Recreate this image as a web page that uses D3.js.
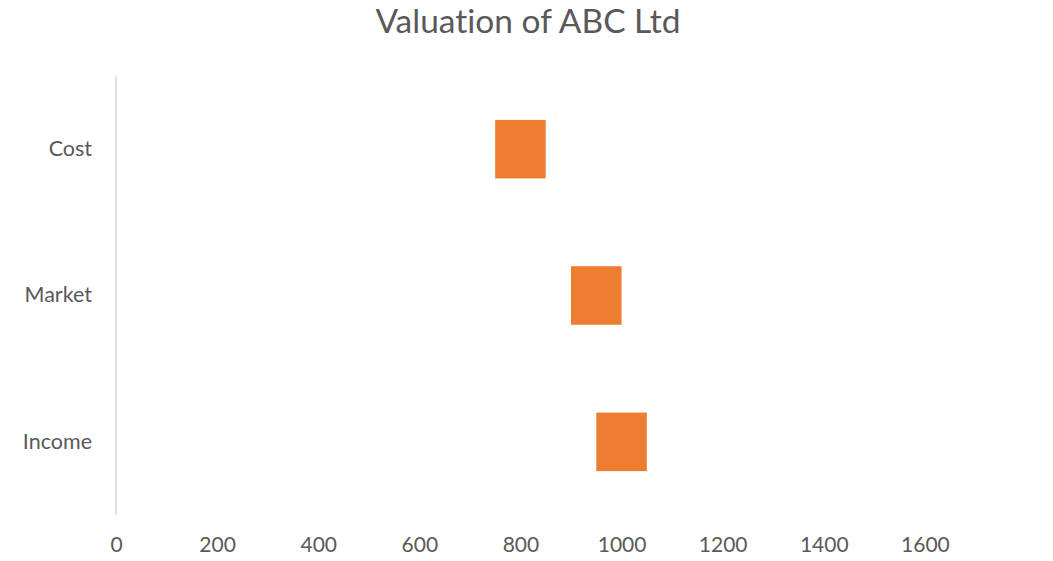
<!DOCTYPE html>
<html>
<head>
<meta charset="utf-8">
<script src="https://cdn.jsdelivr.net/npm/d3@7"></script>
<style>
html,body{margin:0;padding:0;background:#fff;}
svg{display:block;font-family:Lato,"Open Sans",sans-serif;font-variant-ligatures:none;}
text{font-variant-ligatures:none;font-feature-settings:"liga" 0;}
</style>
</head>
<body>
<svg id="chart" width="1053" height="561"></svg>
<script>
const title = "Valuation of ABC Ltd";
const categories = ["Cost", "Market", "Income"];
const lowValues = [750, 900, 950];
const highValues = [850, 1000, 1050];
const xTicks = [0, 200, 400, 600, 800, 1000, 1200, 1400, 1600];
const xMax = 1800;

const svg = d3.select("#chart");
const margin = {left: 116, right: 27, top: 76, bottom: 46};
const W = 1053, H = 561;

const x = d3.scaleLinear().domain([0, xMax]).range([margin.left, W - margin.right]);
const y = d3.scaleBand().domain(categories).range([margin.top, H - margin.bottom]).paddingInner(0.6).paddingOuter(0.3);

svg.append("text")
  .attr("x", 528).attr("y", 33)
  .attr("text-anchor", "middle")
  .attr("fill", "#595959")
  .style("font-size", "33.5px")
  .text(title);

// bars
svg.append("g").selectAll("rect")
  .data(categories)
  .join("rect")
  .attr("x", (d, i) => x(lowValues[i]))
  .attr("width", (d, i) => x(highValues[i]) - x(lowValues[i]))
  .attr("y", d => y(d))
  .attr("height", y.bandwidth())
  .attr("fill", "#ED7D31");

// vertical axis line
svg.append("line")
  .attr("x1", x(0)).attr("x2", x(0))
  .attr("y1", margin.top).attr("y2", H - margin.bottom)
  .attr("stroke", "#d9d9d9").attr("stroke-width", 1.5);

// category labels
const yAxis = d3.axisLeft(y).tickSize(0).tickPadding(24);
const gy = svg.append("g").attr("transform", `translate(${x(0)},0)`).call(yAxis);
gy.select(".domain").remove();
gy.selectAll("text").attr("fill", "#595959").style("font-size", "21.5px").style("font-family", "Lato,'Open Sans',sans-serif");

// x tick labels
const xAxis = d3.axisBottom(x).tickValues(xTicks).tickSize(0).tickPadding(0).tickFormat(d3.format("d"));
const gx = svg.append("g").attr("transform", `translate(0,537)`).call(xAxis);
gx.select(".domain").remove();
gx.selectAll("text").attr("fill", "#595959").attr("dy", "0.71em").style("font-size", "21px").style("font-family", "Lato,'Open Sans',sans-serif");
</script>
</body>
</html>
